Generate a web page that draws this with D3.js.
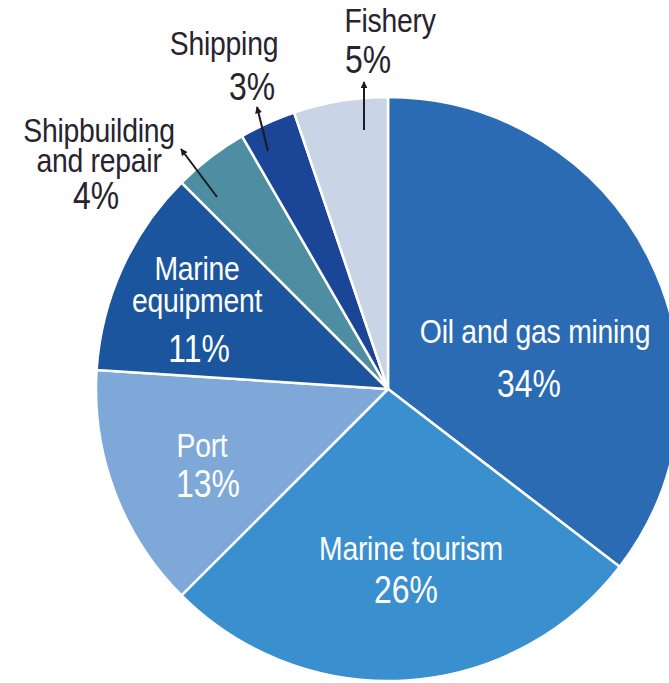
<!DOCTYPE html>
<html>
<head>
<meta charset="utf-8">
<script src="https://cdn.jsdelivr.net/npm/d3@7"></script>
<style>
  html, body { margin: 0; padding: 0; background: #fff; overflow: hidden; }
  svg { display: block; }
</style>
</head>
<body>
<div id="chart"></div>
<script>
// Sector shares, clockwise from 12 o'clock
const categories = ['Oil and gas mining', 'Marine tourism', 'Port', 'Marine equipment', 'Shipbuilding and repair', 'Shipping', 'Fishery'];
const shares = [34, 26, 13, 11, 4, 3, 5];
const colors = ['#2a6bb3', '#3a8fcf', '#7ea8d7', '#1b559d', '#4e8ea2', '#1b4597', '#c9d5e6'];

// label lines per slice (name lines, then percent)
const labelLines = [
  ['Oil and gas mining'],
  ['Marine tourism'],
  ['Port'],
  ['Marine', 'equipment'],
  ['Shipbuilding', 'and repair'],
  ['Shipping'],
  ['Fishery']
];

const width = 669;
const height = 683;
const cx = 388;
const cy = 389;
const radius = 292;

const svg = d3.select('#chart')
  .append('svg')
  .attr('width', width)
  .attr('height', height)
  .attr('viewBox', [0, 0, width, height]);

const data = categories.map((c, i) => ({ name: c, value: shares[i], color: colors[i], lines: labelLines[i] }));

const pie = d3.pie()
  .sort(null)
  .value(d => d.value)
  .startAngle(0)
  .endAngle(2 * Math.PI);

const arc = d3.arc()
  .innerRadius(0)
  .outerRadius(radius);

const g = svg.append('g')
  .attr('transform', `translate(${cx},${cy})`);

g.selectAll('path.slice')
  .data(pie(data))
  .join('path')
  .attr('class', 'slice')
  .attr('d', arc)
  .attr('fill', d => d.data.color)
  .attr('stroke', '#fff')
  .attr('stroke-width', 2.5)
  .attr('stroke-linejoin', 'round');

// Arrowhead for the small outside labels
svg.append('defs').append('marker')
  .attr('id', 'arrow')
  .attr('viewBox', '0 0 10 10')
  .attr('refX', 9)
  .attr('refY', 5)
  .attr('markerWidth', 7)
  .attr('markerHeight', 7)
  .attr('markerUnits', 'userSpaceOnUse')
  .attr('orient', 'auto')
  .append('path')
  .attr('d', 'M0,0 L10,5 L0,10 z')
  .attr('fill', '#1e1a22');

// Label layout: name block position, line gap, percent position (page coords)
const labelLayout = [
  { x: 535, y: 343, gap: 0,  px: 529, py: 397, fill: '#fff' },
  { x: 411, y: 560, gap: 0,  px: 406, py: 603, fill: '#fff' },
  { x: 202, y: 457, gap: 0,  px: 208, py: 497, fill: '#fff' },
  { x: 197, y: 280, gap: 32, px: 199, py: 362, fill: '#fff' },
  { x: 99,  y: 142, gap: 30, px: 96,  py: 209, fill: '#28232e' },
  { x: 224, y: 55,  gap: 0,  px: 252, py: 100, fill: '#28232e' },
  { x: 390, y: 32,  gap: 0,  px: 368, py: 73,  fill: '#28232e' }
];

const arrows = [
  null, null, null, null,
  { x1: 217, y1: 197, x2: 181, y2: 149 },
  { x1: 268, y1: 151, x2: 257, y2: 107 },
  { x1: 364, y1: 130, x2: 364, y2: 82 }
];

const nameSize = 33;
const nameSqueeze = 0.86;
const pctSize = 38;
const pctSqueeze = 0.84;
const font = '"Liberation Sans", Arial, sans-serif';

data.forEach((d, i) => {
  const L = labelLayout[i];
  const name = svg.append('text')
    .attr('transform', `translate(${L.x},${L.y}) scale(${nameSqueeze},1)`)
    .attr('text-anchor', 'middle')
    .style('font-family', font)
    .style('font-size', nameSize + 'px')
    .style('letter-spacing', '-0.3px')
    .style('fill', L.fill);
  d.lines.forEach((line, j) => {
    name.append('tspan')
      .attr('x', 0)
      .attr('y', j * L.gap)
      .text(line);
  });

  svg.append('text')
    .attr('transform', `translate(${L.px},${L.py}) scale(${pctSqueeze},1)`)
    .attr('text-anchor', 'middle')
    .style('font-family', font)
    .style('font-size', pctSize + 'px')
    .style('fill', L.fill)
    .text(d.value + '%');

  const a = arrows[i];
  if (a) {
    svg.append('line')
      .attr('x1', a.x1).attr('y1', a.y1)
      .attr('x2', a.x2).attr('y2', a.y2)
      .attr('stroke', '#1e1a22')
      .attr('stroke-width', 2)
      .attr('marker-end', 'url(#arrow)');
  }
});
</script>
</body>
</html>
